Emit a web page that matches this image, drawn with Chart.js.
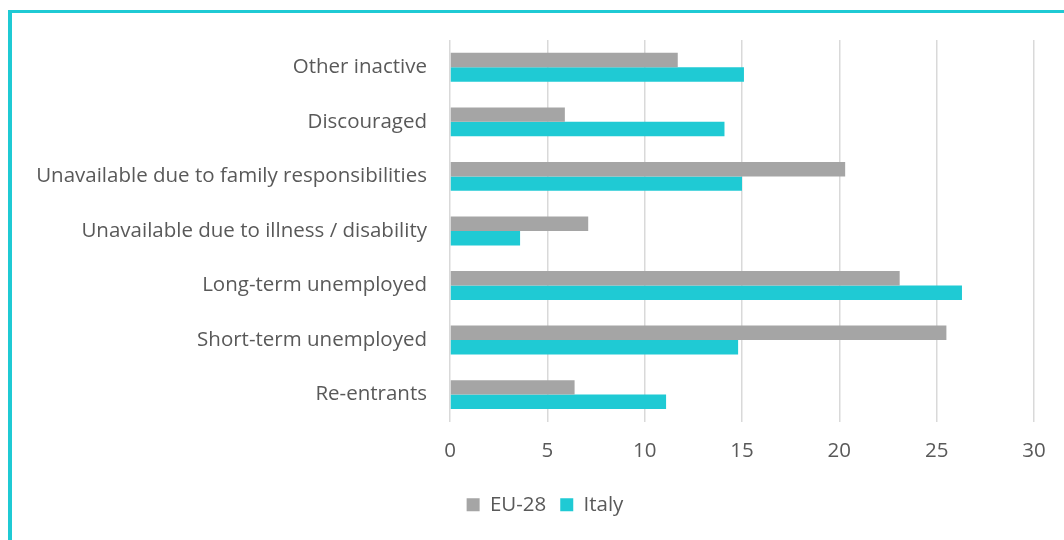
<!DOCTYPE html>
<html>
<head>
<meta charset="utf-8">
<script src="https://cdn.jsdelivr.net/npm/chart.js@4"></script>
<style>
    body { margin: 0; background: #fff; }
    #wrap { position: absolute; left: 0; top: 0; width: 1064px; height: 540px; overflow: hidden; }
    #frame { position: absolute; left: 8px; top: 10px; width: 1100px; height: 600px;
             border-left: 4px solid #1fcad4; border-top: 3px solid #1fcad4; }
    #holder { position: absolute; left: 0; top: 0; width: 1064px; height: 540px; }
</style>
</head>
<body>
<div id="wrap">
    <div id="frame"></div>
    <div id="holder"><canvas id="bars"></canvas></div>
</div>
<script>
// categories, top to bottom
const categories = [
    'Other inactive',
    'Discouraged',
    'Unavailable due to family responsibilities',
    'Unavailable due to illness / disability',
    'Long-term unemployed',
    'Short-term unemployed',
    'Re-entrants'
];
const eu28 = [11.7, 5.9, 20.3, 7.1, 23.1, 25.5, 6.4];
const italy = [15.1, 14.1, 15.0, 3.6, 26.3, 14.8, 11.1];
const xTicks = [0, 5, 10, 15, 20, 25, 30];

const textColor = '#595959';
const font = { family: "'Open Sans', 'Liberation Sans', sans-serif", size: 20.5 };

// legend sits a bit right of the canvas centre in the original
const legendShift = {
    id: 'legendShift',
    afterLayout(chart) {
        chart.legend.left += 28;
        chart.legend.right += 28;
    }
};

const data = {
    labels: categories,
    datasets: [{
        label: 'EU-28',
        data: eu28,
        backgroundColor: '#a5a5a5',
        categoryPercentage: 0.53,
        barPercentage: 1.0
    }, {
        label: 'Italy',
        data: italy,
        backgroundColor: '#1fcad4',
        categoryPercentage: 0.53,
        barPercentage: 1.0
    }]
};

const config = {
    type: 'bar',
    data: data,
    plugins: [legendShift],
    options: {
        indexAxis: 'y',
        responsive: true,
        maintainAspectRatio: false,
        animation: false,
        layout: { padding: { left: 0, right: 30, top: 40, bottom: 15 } },
        scales: {
            x: {
                min: 0,
                max: 30,
                afterBuildTicks: function(axis) {
                    axis.ticks = xTicks.map(v => ({ value: v }));
                },
                ticks: { color: textColor, font: font, padding: 17 },
                grid: { color: '#d9d9d9', lineWidth: 1.5, drawTicks: false },
                border: { display: false }
            },
            y: {
                afterFit: function(axis) { axis.width = 450; },
                ticks: { color: textColor, font: font, padding: 15 },
                grid: { display: false },
                border: { display: false }
            }
        },
        plugins: {
            legend: {
                position: 'bottom',
                labels: {
                    color: textColor,
                    font: font,
                    boxWidth: 13,
                    boxHeight: 13,
                    padding: 14
                }
            },
            tooltip: { enabled: false }
        }
    }
};

const barChart = new Chart(document.getElementById('bars'), config);
</script>
</body>
</html>
